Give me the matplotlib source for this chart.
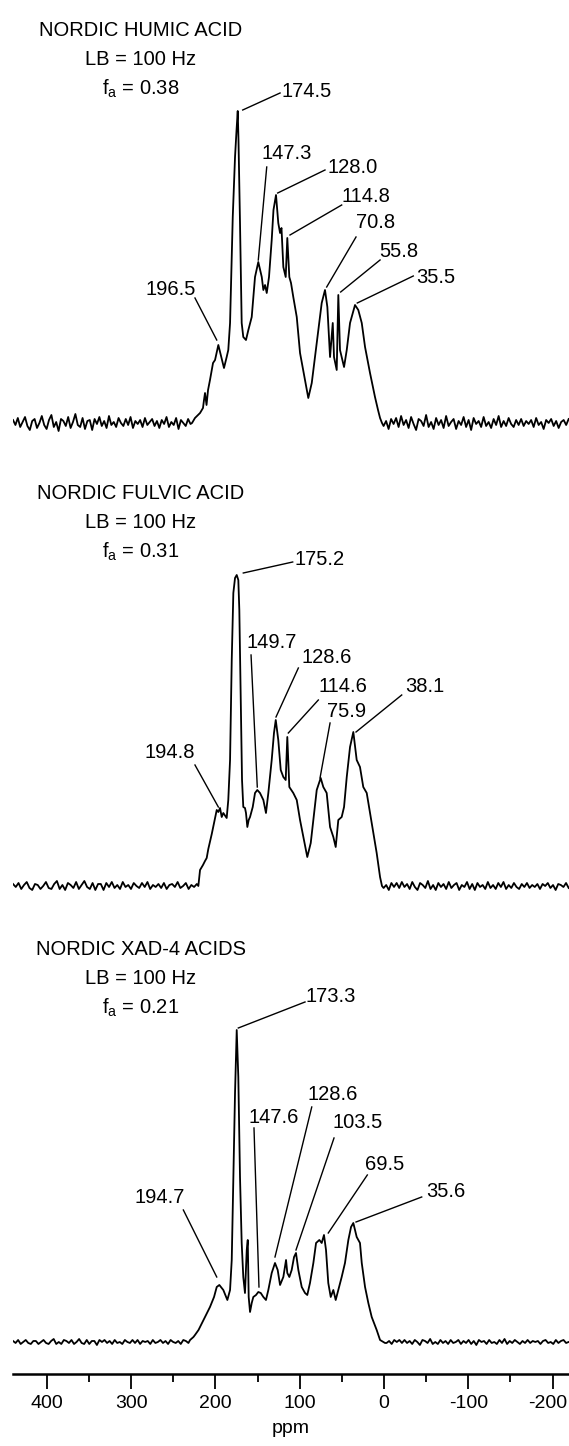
import numpy as np
import matplotlib.pyplot as plt
import matplotlib.transforms as mtransforms

plt.rcParams['font.family'] = 'Liberation Sans'
plt.rcParams['mathtext.fontset'] = 'custom'
plt.rcParams['mathtext.rm'] = 'Liberation Sans'
plt.rcParams['mathtext.it'] = 'Liberation Sans:italic'
plt.rcParams['axes.unicode_minus'] = False

# spectra: ppm and intensity (arbitrary units, baseline = 0)
hum_ppm = [227.7, 224.2, 218.2, 214.7, 213.5, 212.3, 210.5, 208.7, 206.4, 202.8, 200.4, 196.5, 193.3, 189.8, 186.6,
           184.7, 182.6, 180.6, 179.4, 176.7, 174.9, 173.5, 172.6, 170.8, 168.8, 166.9, 163.7, 160.9, 156.9, 153.0,
           149.1, 145.0, 143.1, 141.1, 139.1, 136.4, 133.2, 131.1, 128.1, 125.4, 123.3, 121.6, 119.4, 116.6, 114.7,
           112.3, 110.3, 107.6, 103.5, 99.6, 93.7, 89.8, 85.7, 79.8, 73.9, 70.0, 67.2, 64.0, 60.8, 59.3,
           56.1, 54.2, 52.2, 50.2, 47.4, 44.2, 40.3, 34.4, 30.5, 26.4, 22.5, 16.6, 10.7, 7.1, 4.7, 2.4]
hum_int = [0, 5, 10, 15, 23, 30, 18, 33, 43, 60, 63, 78, 67, 55, 66,
           73, 100, 166, 206, 266, 293, 312, 283, 200, 100, 86, 83, 93, 106, 146,
           161, 146, 133, 138, 130, 146, 183, 213, 228, 200, 190, 195, 156, 146, 185,
           146, 140, 126, 106, 70, 43, 25, 40, 80, 120, 133, 116, 66, 100, 66,
           53, 128, 73, 66, 56, 73, 100, 118, 113, 100, 76, 50, 26, 13, 5, 0]

ful_ppm = [220.2, 218.2, 214.7, 212.3, 210.3, 208.4, 204.3, 200.4, 198.4, 196.5, 194.5, 192.5, 190.6, 186.6, 184.7,
           182.6, 180.6, 178.7, 176.7, 174.7, 172.8, 171.6, 170.0, 168.4, 166.9, 164.9, 163.7, 162.1, 160.5, 158.9,
           155.7, 153.0, 150.3, 147.1, 143.1, 140.0, 137.2, 133.2, 130.5, 128.4, 125.4, 122.5, 119.4, 116.6, 114.7,
           112.3, 107.6, 103.5, 99.6, 95.7, 91.0, 86.9, 83.8, 79.8, 75.1, 72.0, 68.0, 64.0, 60.1, 57.3,
           54.2, 50.2, 47.4, 44.2, 40.3, 36.4, 32.4, 28.5, 24.6, 20.5, 16.6, 12.7, 8.7, 4.7, 2.4]
ful_int = [0, 16, 21, 25, 28, 37, 52, 68, 76, 74, 78, 69, 73, 68, 86,
           126, 226, 293, 308, 311, 306, 276, 193, 106, 79, 78, 73, 59, 66, 69,
           79, 93, 96, 93, 86, 73, 93, 126, 153, 166, 146, 116, 109, 106, 149,
           99, 93, 86, 66, 49, 29, 43, 66, 96, 108, 99, 93, 59, 49, 39,
           66, 69, 79, 109, 139, 154, 126, 119, 99, 93, 73, 53, 33, 9, 0]

xad_ppm = [230.0, 226.0, 224.2, 220.0, 218.2, 212.3, 206.4, 201.6, 198.4, 195.3, 190.6, 185.8, 182.6, 180.6, 178.7,
           176.7, 174.7, 172.8, 170.8, 168.8, 166.9, 164.9, 162.8, 161.6, 160.5, 158.9, 156.9, 155.0, 151.8, 149.1,
           146.2, 143.1, 140.0, 137.2, 133.2, 129.3, 126.1, 123.3, 119.4, 116.2, 114.7, 112.3, 109.5, 106.7, 104.4,
           101.6, 97.6, 93.7, 91.0, 87.8, 83.8, 80.6, 76.7, 73.9, 71.2, 68.8, 66.1, 63.2, 60.1, 57.3,
           54.2, 50.2, 46.3, 42.3, 39.1, 36.4, 32.4, 28.5, 26.4, 22.5, 18.6, 14.6, 8.7, 4.7, -1.2]
xad_int = [2, 5, 7, 12, 15, 25, 35, 45, 55, 57, 52, 42, 52, 82, 165,
           249, 312, 265, 165, 99, 65, 49, 92, 102, 45, 30, 39, 45, 47, 50,
           49, 45, 42, 52, 69, 79, 72, 57, 65, 82, 69, 65, 72, 85, 89,
           72, 55, 49, 47, 59, 79, 99, 102, 99, 107, 92, 59, 45, 52, 42,
           52, 65, 79, 102, 115, 119, 105, 99, 79, 55, 39, 25, 12, 2, -1]

# baseline noise (left and right of the signal)
hum_noise_l = [3, -2, 5, -4, 1, 6, -3, -7, 2, 4, -5, 0, 7, -2, -6, 3, 8, -4, 1, -8, 4, 2, -3, 6, -5, 1, 9, -2, -4, 5,
               -6, 2, 3, -7, 4, -1, 6, -3, 2, -5, 7, -2, 1, -4, 5, 0, -3, 4, -2, 6, -5, 2, -1, 3, -4, 5, -2, 1, 4, -3,
               2, -5, 3, -1, 6, -4, 1, -2, 5, -6, 3, 0, -3, 4, -1]
hum_noise_r = [-3, 2, -6, 4, -1, 5, -4, 7, -2, 3, -5, 6, -1, -7, 4, 2, -3, 8, -4, 1, -6, 5, -2, 3, -5, 7, -3, 1, 4, -6,
               2, -2, 6, -4, 3, -7, 5, -1, 2, -4, 6, -3, 1, -5, 4, -2, 7, -4, 2, -3, 5, -1, -4, 3, -2, 4, -3, 2, -1, 3,
               -4, 5, -2, 1, -6, 3, 0, 4, -3, 2, -5, 1, 3, -2, 4]
ful_noise_l = [2, -1, 3, -3, 1, 4, -2, -4, 2, 1, -3, 0, 4, -2, -3, 2, 5, -3, 1, -4, 3, 1, -2, 4, -3, 1, 5, -1, -3, 3,
               -4, 2, 2, -4, 3, -1, 4, -2, 1, -3, 4, -1, 1, -3, 3, 0, -2, 3, -1, 4, -3, 1, -1, 2, -2, 3, -3, 1, 2, -1,
               4, -2, 0, 3, -3, 1, -1, 2]
ful_noise_r = [-2, 1, -4, 3, -1, 3, -2, 4, -1, 2, -3, 4, -1, -4, 3, 1, -2, 5, -3, 1, -4, 3, -1, 2, -3, 4, -2, 1, 3, -4,
               1, -1, 4, -3, 2, -4, 3, -1, 1, -3, 4, -2, 1, -3, 3, -1, 4, -3, 1, -2, 3, -1, -3, 2, -1, 3, -2, 1, -1, 2,
               -3, 2, 0, 3, -2, 1, -4, 2, 1, -1, 3, -2]
xad_noise_l = [1, -1, 2, -2, 0, 2, -1, -2, 1, 1, -2, 0, 2, -1, -2, 1, 3, -2, 0, -2, 2, 1, -1, 2, -2, 0, 3, -1, -2, 2,
               -2, 1, 1, -3, 2, 0, 2, -1, 1, -2, 2, -1, 0, -2, 2, 0, -1, 2, -1, 2, -2, 1, 0, 1, -2, 2, -1, 0, 2, -1,
               1, -2, 2, 0, -1, 1, -2, 2, 1, -1]
xad_noise_r = [-1, 1, -2, 2, 0, 2, -1, 2, -1, 1, -2, 2, 0, -3, 2, 1, -1, 3, -2, 0, -2, 2, -1, 1, -2, 2, -1, 0, 2, -2,
               1, -1, 2, -2, 1, -3, 2, 0, 1, -2, 2, -1, 0, -2, 2, -1, 3, -2, 1, -1, 2, 0, -2, 1, -1, 2, -1, 1, 0, 1,
               -2, 1, 2, -1, 0, -2, 2, -1, 1, 2, -1, 0]

# header lines
hum_title = ["NORDIC HUMIC ACID", "LB = 100 Hz", r"f$_\mathrm{a}$ = 0.38"]
ful_title = ["NORDIC FULVIC ACID", "LB = 100 Hz", r"f$_\mathrm{a}$ = 0.31"]
xad_title = ["NORDIC XAD-4 ACIDS", "LB = 100 Hz", r"f$_\mathrm{a}$ = 0.21"]

# peak labels: text, text ppm, text height, line start (ppm, h), line end (ppm, h)
hum_labels = [("174.5", 91.3, 331, 167.6, 313, 123.3, 330),
              ("147.3", 115.4, 269, 139.1, 256, 149.1, 163),
              ("128.0", 37.4, 255, 126.1, 230, 70.0, 253),
              ("114.8", 21.3, 226, 111.5, 188, 50.2, 218),
              ("70.8", 9.5, 200, 68.0, 136, 33.2, 186),
              ("55.8", -17.8, 171, 51.4, 131, 4.7, 163),
              ("35.5", -61.7, 145, 31.7, 120, -34.7, 147),
              ("196.5", 252.6, 133, 224.2, 125, 198.4, 83)]
ful_labels = [("175.2", 75.9, 326, 166.9, 313, 108.3, 324),
              ("149.7", 133.2, 243, 157.7, 231, 150.3, 99),
              ("128.6", 68.0, 228, 101.6, 218, 128.1, 169),
              ("114.6", 48.6, 199, 77.9, 186, 113.5, 153),
              ("75.9", 44.2, 174, 64.0, 163, 75.9, 108),
              ("38.1", -48.6, 199, -21.0, 191, 33.2, 154),
              ("194.8", 253.8, 133, 224.2, 121, 196.5, 79)]
xad_labels = [("173.3", 62.9, 345, 172.8, 314, 93.7, 340),
              ("128.6", 61.1, 247, 85.7, 235, 129.3, 85),
              ("147.6", 130.5, 224, 154.2, 214, 148.3, 55),
              ("103.5", 31.4, 219, 59.3, 204, 104.4, 92),
              ("69.5", -1.2, 177, 19.8, 167, 66.1, 109),
              ("35.6", -73.5, 150, -44.7, 145, 33.2, 120),
              ("194.7", 265.7, 144, 238.0, 132, 198.4, 65)]

spectra = [
    (hum_ppm, hum_int, hum_noise_l, hum_noise_r, 229.5, 0.5, 951, hum_title, hum_labels),
    (ful_ppm, ful_int, ful_noise_l, ful_noise_r, 222.0, 0.5, 488, ful_title, ful_labels),
    (xad_ppm, xad_int, xad_noise_l, xad_noise_r, 232.0, -3.0, 32, xad_title, xad_labels),
]

fig = plt.figure(figsize=(5.69, 14.46), dpi=100)
ax = fig.add_axes([0.0223, 0.0498, 0.9777, 0.9502])

for ppm, inten, nl, nr, l_end, r_start, off, title, labels in spectra:
    x = np.concatenate([np.linspace(440, l_end, len(nl)), ppm, np.linspace(r_start, -219, len(nr))])
    y = np.concatenate([nl, inten, nr]) + off
    ax.plot(x, y, color='black', lw=1.3)
    for i, t in enumerate(title):
        ax.text(288.2, off + 392 - 29 * i, t, ha='center', va='center', fontsize=14.5)
    for s, tx, ty, x1, y1, x2, y2 in labels:
        ax.plot([x1, x2], [off + y1, off + y2], color='black', lw=1.0)
        ax.text(tx, off + ty, s, ha='center', va='center', fontsize=14.5)

ax.set_xlim(440.4, -219.4)
ax.set_ylim(0, 1374)
for side in ['top', 'left', 'right']:
    ax.spines[side].set_visible(False)
ax.spines['bottom'].set_linewidth(1.8)
ax.set_yticks([])
ax.set_xticks([400, 300, 200, 100, 0, -100, -200])
ax.set_xticks([350, 250, 150, 50, -50, -150], minor=True)
ax.tick_params(axis='x', which='major', length=11, width=1.3, direction='out', labelsize=14, pad=4)
ax.tick_params(axis='x', which='minor', length=6, width=1.3, direction='out')
ax.set_xlabel('ppm', fontsize=14, labelpad=6)

# keep the last tick label inside the picture
last = ax.get_xticklabels()[-1]
last.set_transform(last.get_transform() + mtransforms.ScaledTranslation(-5 / 100, 0, fig.dpi_scale_trans))

fig.savefig('out.png', dpi=100)
